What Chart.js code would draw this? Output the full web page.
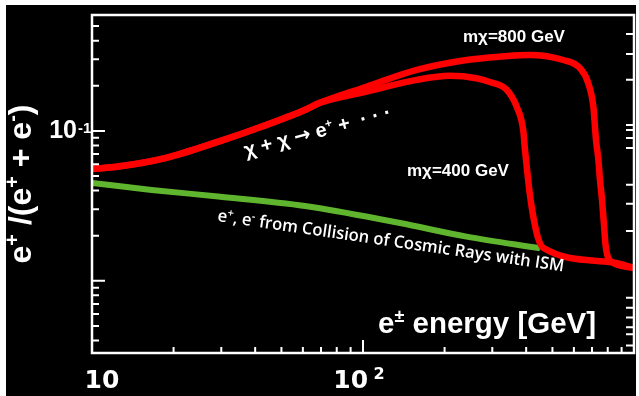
<!DOCTYPE html>
<html>
<head>
<meta charset="utf-8">
<script src="https://cdn.jsdelivr.net/npm/chart.js@4.4.1/dist/chart.umd.min.js"></script>
<style>
  html, body { margin: 0; padding: 0; background: #fff; }
</style>
</head>
<body>
<canvas id="chart" width="639" height="396"></canvas>
<script>
// positron fraction
const energy800 = [10, 12.5, 18.6, 29.3, 42.4, 61, 69.4, 103, 158, 241, 320, 413, 548, 632, 678, 708, 724, 739, 749, 762, 775, 785, 798, 830, 1000];
const ratio800  = [0.0558, 0.0578, 0.0658, 0.0848, 0.107, 0.138, 0.154, 0.197, 0.255, 0.297, 0.313, 0.321, 0.297, 0.262, 0.208, 0.145, 0.0871, 0.064, 0.0471, 0.0347, 0.0236, 0.0174, 0.0147, 0.0133, 0.0122];

const energy400 = [10, 12.5, 18.6, 29.3, 42.4, 61, 69.4, 103, 158, 209, 262, 294, 339, 369, 390, 396, 405, 413, 425, 442, 462, 830, 1000];
const ratio400  = [0.0558, 0.0578, 0.0658, 0.0848, 0.107, 0.138, 0.154, 0.183, 0.219, 0.233, 0.2245, 0.212, 0.188, 0.145, 0.1015, 0.0747, 0.0509, 0.0374, 0.0268, 0.0194, 0.0166, 0.0133, 0.0122];

const energyBg = [10, 16.6, 29.2, 61.1, 69.4, 137, 241, 450];
const ratioBg  = [0.045, 0.0404, 0.0365, 0.0316, 0.0305, 0.0243, 0.0197, 0.0165];

// axes
const xMajorTicks = [10, 100];
const xMinorTicks = [20, 30, 40, 50, 60, 70, 80, 90, 200, 300, 400, 500, 600, 700, 800, 900];
const xLabelBase = ['10', '10'];
const xLabelExp = ['', '2'];
const yMajorTicks = [0.01, 0.1];
const yMinorTicks = [0.004, 0.005, 0.006, 0.007, 0.008, 0.009, 0.02, 0.03, 0.04, 0.05, 0.06, 0.07, 0.08, 0.09, 0.2, 0.3, 0.4, 0.5];
const yLabelTicks = [0.1];
const yLabelBase = ['10'];
const yLabelExp = ['-1'];
const rightTicks = [0.443, 0.326, 0.219, 0.1096, 0.1015, 0.0898, 0.077, 0.0437, 0.0326, 0.0215, 0.0077, 0.0066, 0.0057, 0.0049, 0.0044, 0.0037];

const RED = '#ff0000';
const GREEN = '#5fb52d';

function pts(xs, ys) {
  return xs.map((x, i) => ({ x: x, y: ys[i] }));
}

// text with raised parts: [[text, isSup, family?], ...]
function drawRich(ctx, parts, x, y, size, family, weight, angle, align, sx) {
  ctx.save();
  ctx.translate(x, y);
  ctx.rotate(angle);
  if (sx) ctx.scale(sx, 1);
  const fonts = parts.map(p => weight + ' ' + (p[1] ? Math.round(size * 0.62) : size) + 'px ' + (p[2] || family));
  const widths = parts.map((p, i) => { ctx.font = fonts[i]; return ctx.measureText(p[0]).width; });
  const total = widths.reduce((a, b) => a + b, 0);
  let cx = align === 'center' ? -total / 2 : (align === 'right' ? -total : 0);
  ctx.textAlign = 'left';
  ctx.textBaseline = 'alphabetic';
  parts.forEach((p, i) => {
    ctx.font = fonts[i];
    ctx.fillText(p[0], cx, p[1] ? -size * 0.36 : 0);
    cx += widths[i];
  });
  ctx.restore();
  return total;
}

const decor = {
  id: 'decor',
  beforeDraw(chart) {
    const ctx = chart.ctx;
    ctx.save();
    ctx.fillStyle = '#fff';
    ctx.fillRect(0, 0, chart.width, chart.height);
    ctx.fillStyle = '#000';
    ctx.fillRect(6, 5, 630, 391);
    ctx.restore();
  },
  afterDraw(chart) {
    const ctx = chart.ctx;
    const a = chart.chartArea;
    const xs = chart.scales.x, ys = chart.scales.y;
    ctx.save();
    ctx.strokeStyle = '#fff';
    ctx.fillStyle = '#fff';

    // ticks pointing inwards
    ctx.lineWidth = 2;
    ctx.beginPath();
    xMajorTicks.forEach(v => { const p = xs.getPixelForValue(v); ctx.moveTo(p, a.bottom); ctx.lineTo(p, a.bottom - 13); });
    xMinorTicks.forEach(v => { const p = xs.getPixelForValue(v); ctx.moveTo(p, a.bottom); ctx.lineTo(p, a.bottom - 6); });
    yMajorTicks.forEach(v => { const p = ys.getPixelForValue(v); ctx.moveTo(a.left, p); ctx.lineTo(a.left + 13, p); });
    yMinorTicks.forEach(v => { const p = ys.getPixelForValue(v); ctx.moveTo(a.left, p); ctx.lineTo(a.left + 7, p); });
    rightTicks.forEach(v => { const p = ys.getPixelForValue(v); ctx.moveTo(a.right, p); ctx.lineTo(a.right - 8, p); });
    ctx.stroke();

    // frame
    ctx.lineWidth = 2.5;
    ctx.strokeRect(a.left, a.top, a.right - a.left, a.bottom - a.top);

    // tick labels
    xMajorTicks.forEach((v, i) => {
      const p = xs.getPixelForValue(v);
      const parts = xLabelExp[i] ? [[xLabelBase[i], 0], [' ', 1], [xLabelExp[i], 1]] : [[xLabelBase[i], 0]];
      drawRich(ctx, parts, p + (xLabelExp[i] ? -4 : 10), 388, 25, '"DejaVu Sans"', 'bold', 0, 'center');
    });
    yLabelTicks.forEach((v, i) => {
      const p = ys.getPixelForValue(v);
      ctx.font = 'bold 25px "Liberation Sans"';
      ctx.textAlign = 'right';
      ctx.fillText(yLabelBase[i], 77, p + 7);
      ctx.font = 'bold 15px "Liberation Sans"';
      ctx.textAlign = 'left';
      ctx.fillText(yLabelExp[i], 78, p + 2);
    });

    // axis titles
    drawRich(ctx, [['e', 0], ['+', 1], [' /(e', 0], ['+', 1], [' + e', 0], ['-', 1], [')', 0]],
      31, 184, 32, '"Liberation Sans"', 'bold', -Math.PI / 2, 'center');
    drawRich(ctx, [['e', 0], ['\u00b1', 1], [' energy [GeV]', 0]],
      378, 333, 29.5, '"Liberation Sans"', 'bold', 0, 'left');

    // annotations
    drawRich(ctx, [['m\u03c7=800 GeV', 0]], 463, 42, 17, '"Liberation Sans"', 'bold', 0, 'left');
    drawRich(ctx, [['m\u03c7=400 GeV', 0]], 407, 176, 17, '"Liberation Sans"', 'bold', 0, 'left');
    drawRich(ctx, [['\u03c7 + \u03c7 ', 0], ['\u2192', 0, '"DejaVu Sans"'], [' e', 0], ['+', 1], [' +  \u00b7 \u00b7 \u00b7', 0]],
      246, 157, 20, '"Liberation Sans"', 'bold', -15 * Math.PI / 180, 'left');

    const bgParts = [['e', 0], ['+', 1], [', e', 0], ['-', 1], [' from Collision of Cosmic Rays with ISM', 0]];
    ctx.globalAlpha = 0;
    const w = drawRich(ctx, bgParts, 0, 0, 17, '"Open Sans"', '600', 0, 'left');
    ctx.globalAlpha = 1;
    drawRich(ctx, bgParts, 217, 221, 17, '"Open Sans"', '600', 8.3 * Math.PI / 180, 'left', 350 / w);
    ctx.restore();
  }
};

new Chart(document.getElementById('chart'), {
  type: 'line',
  data: {
    datasets: [
      { label: 'm=800', data: pts(energy800, ratio800), borderColor: RED, borderWidth: 6.5, order: 1 },
      { label: 'm=400', data: pts(energy400, ratio400), borderColor: RED, borderWidth: 6.5, order: 2 },
      { label: 'secondary', data: pts(energyBg, ratioBg), borderColor: GREEN, borderWidth: 6, order: 3 }
    ]
  },
  options: {
    responsive: false,
    animation: false,
    devicePixelRatio: 1,
    layout: { padding: { left: 92, top: 15, right: 5, bottom: 43 } },
    elements: {
      point: { radius: 0 },
      line: { cubicInterpolationMode: 'monotone', borderJoinStyle: 'round', borderCapStyle: 'butt' }
    },
    plugins: { legend: { display: false }, tooltip: { enabled: false } },
    scales: {
      x: { type: 'logarithmic', min: 10, max: 1000, display: false },
      y: { type: 'logarithmic', min: 0.0033, max: 0.593, display: false }
    }
  },
  plugins: [decor]
});
</script>
</body>
</html>
